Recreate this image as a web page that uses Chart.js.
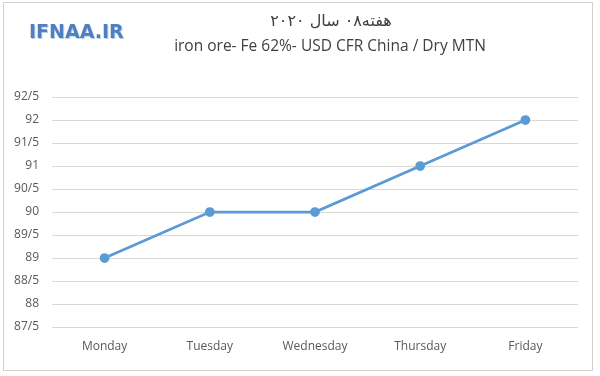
<!DOCTYPE html>
<html>
<head>
<meta charset="utf-8">
<script src="https://cdn.jsdelivr.net/npm/chart.js@4.4.1/dist/chart.umd.min.js"></script>
<style>
  html, body { margin: 0; padding: 0; background: #ffffff; }
  #wrap { width: 600px; height: 376px; position: relative; }
</style>
</head>
<body>
<div id="wrap"><canvas id="oreChart" width="600" height="376"></canvas></div>
<script>
// data
const days = ['Monday', 'Tuesday', 'Wednesday', 'Thursday', 'Friday'];
const prices = [89, 90, 90, 91, 92];
const yMin = 87.5;
const yMax = 92.5;
const yStep = 0.5;

const titleFa = 'هفته۰۸ سال ۲۰۲۰';
const titleEn = 'iron ore- Fe 62%- USD CFR China / Dry MTN';
const logoText = 'IFNAA.IR';

// frame, logo and the two title lines
const decorPlugin = {
    id: 'decor',
    beforeDraw(chart) {
        const ctx = chart.ctx;
        ctx.save();
        ctx.fillStyle = '#ffffff';
        ctx.fillRect(0, 0, chart.width, chart.height);
        ctx.strokeStyle = '#d0d0d0';
        ctx.lineWidth = 1;
        ctx.strokeRect(3.5, 2.5, 589, 368);
        ctx.restore();
    },
    afterDraw(chart) {
        const ctx = chart.ctx;
        ctx.save();
        // logo
        ctx.font = 'bold 19px "DejaVu Sans"';
        ctx.textAlign = 'left';
        ctx.textBaseline = 'middle';
        ctx.fillStyle = '#b9cfe8';
        ctx.fillText(logoText, 30, 34);
        ctx.fillStyle = '#4f7fc0';
        ctx.fillText(logoText, 29, 33);
        // titles
        ctx.textAlign = 'center';
        ctx.fillStyle = '#404040';
        ctx.font = '16px "DejaVu Sans"';
        ctx.direction = 'rtl';
        ctx.fillText(titleFa, 331, 22);
        ctx.direction = 'ltr';
        ctx.font = '15.5px "Open Sans"';
        ctx.fillText(titleEn, 330, 47);
        ctx.restore();
    }
};

const ctx = document.getElementById('oreChart');
new Chart(ctx, {
    type: 'line',
    data: {
        labels: days,
        datasets: [{
            data: prices,
            borderColor: '#5b9bd5',
            backgroundColor: '#5b9bd5',
            borderWidth: 2.75,
            pointRadius: 3.5,
            pointHoverRadius: 3.5,
            pointBackgroundColor: '#5b9bd5',
            pointBorderColor: '#5b9bd5',
            tension: 0
        }]
    },
    options: {
        responsive: false,
        animation: false,
        layout: {
            padding: { left: 0, right: 22, top: 97, bottom: 0 }
        },
        plugins: {
            legend: { display: false },
            tooltip: { enabled: false }
        },
        scales: {
            x: {
                offset: true,
                grid: { display: false, drawTicks: false },
                border: { display: false },
                ticks: {
                    color: '#595959',
                    font: { family: 'Open Sans', size: 12 },
                    padding: 12,
                    maxRotation: 0
                },
                afterFit(scale) { scale.height = 49; }
            },
            y: {
                min: yMin,
                max: yMax,
                grid: { color: '#d9d9d9', lineWidth: 1, drawTicks: false },
                border: { display: false },
                ticks: {
                    stepSize: yStep,
                    color: '#595959',
                    font: { family: 'Open Sans', size: 12 },
                    padding: 13,
                    callback: v => String(v).replace('.', '/')
                },
                afterFit(scale) { scale.width = 52; }
            }
        }
    },
    plugins: [decorPlugin]
});
</script>
</body>
</html>
